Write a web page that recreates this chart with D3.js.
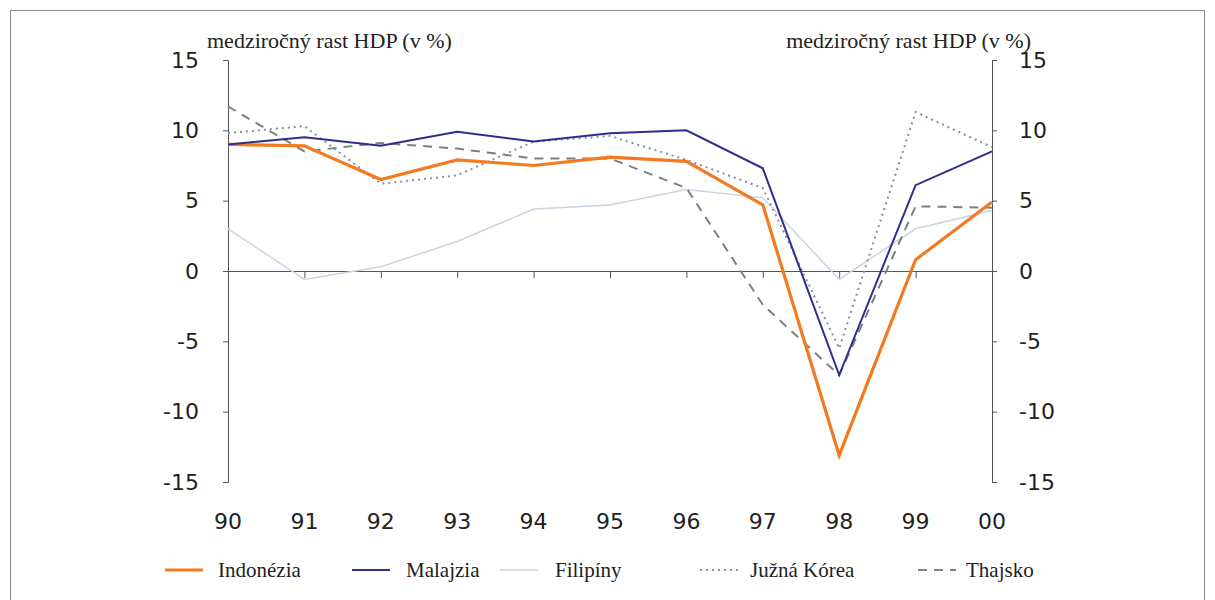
<!DOCTYPE html>
<html><head><meta charset="utf-8">
<script src="https://cdn.jsdelivr.net/npm/d3@7"></script>
<style>body{margin:0;background:#fff}svg{display:block}</style>
</head><body><svg id="c" width="1215" height="600"></svg>
<script>
const years = ["90","91","92","93","94","95","96","97","98","99","00"];
const indonezia = [9.0, 8.9, 6.5, 7.9, 7.5, 8.1, 7.8, 4.7, -13.1, 0.8, 4.9];
const malajzia  = [9.0, 9.5, 8.9, 9.9, 9.2, 9.8, 10.0, 7.3, -7.4, 6.1, 8.5];
const filipiny  = [3.0, -0.6, 0.3, 2.1, 4.4, 4.7, 5.8, 5.2, -0.6, 3.0, 4.3];
const juznaKorea= [9.8, 10.3, 6.2, 6.8, 9.2, 9.6, 7.9, 5.9, -5.5, 11.3, 8.8];
const thajsko   = [11.7, 8.5, 9.1, 8.7, 8.0, 8.0, 5.9, -2.4, -7.4, 4.6, 4.5];
const yTicks = [15, 10, 5, 0, -5, -10, -15];
const yTitle = "medziročný rast HDP (v %)";
const seriesNames = ["Indonézia","Malajzia","Filipíny","Južná Kórea","Thajsko"];

const series = [
  {name: seriesNames[0], values: indonezia, color: "#f47a20", width: 3.2, dash: null},
  {name: seriesNames[1], values: malajzia, color: "#2e2e8e", width: 2, dash: null},
  {name: seriesNames[2], values: filipiny, color: "#c9d5e2", width: 1.5, dash: null},
  {name: seriesNames[3], values: juznaKorea, color: "#8c8ca6", width: 2, dash: "2,4"},
  {name: seriesNames[4], values: thajsko, color: "#7f7f7f", width: 2, dash: "9,7"}
];

const svg = d3.select("#c");
svg.append("rect").attr("x",10.5).attr("y",10.5).attr("width",1194).attr("height",590)
  .attr("fill","none").attr("stroke","#8a8a8a").attr("stroke-width",1);

const x = d3.scalePoint().domain(years).range([228, 992]);
const y = d3.scaleLinear().domain([-15, 15]).range([482, 60]);

const tickFont = "DejaVu Sans, Verdana, sans-serif";
const serif = "Liberation Serif, Times New Roman, serif";
const fmt = d => String(d);

// left axis
const gl = svg.append("g").attr("transform","translate(228,0)")
  .call(d3.axisLeft(y).tickValues(yTicks).tickSize(5).tickPadding(24).tickFormat(fmt));
// right axis
const gr = svg.append("g").attr("transform","translate(992,0)")
  .call(d3.axisRight(y).tickValues(yTicks).tickSize(5).tickPadding(22).tickFormat(fmt));
[gl, gr].forEach(g => {
  g.select(".domain").attr("stroke","#555").attr("stroke-width",1);
  g.selectAll(".tick line").attr("stroke","#555");
  g.selectAll("text").attr("font-family", tickFont).attr("font-size", 22).attr("fill","#222");
});
gl.selectAll(".domain").attr("d", "M-5,60.5H0.5V482.5H-5");
gr.selectAll(".domain").attr("d", "M5,60.5H0.5V482.5H5");

// x axis at zero
const gx = svg.append("g").attr("transform",`translate(0,${y(0)})`)
  .call(d3.axisBottom(x).tickSize(7).tickFormat(""));
gx.select(".domain").attr("stroke","#555").attr("d",`M228,0.5H992`);
gx.selectAll(".tick line").attr("stroke","#555");

// x labels at bottom
svg.append("g").selectAll("text").data(years).join("text")
  .attr("x", d => x(d)).attr("y", 529).attr("text-anchor","middle")
  .attr("font-family", tickFont).attr("font-size", 22).attr("fill","#222").text(d => d);

// titles
svg.append("text").attr("x",207).attr("y",48).attr("font-family",serif).attr("font-size",22)
  .attr("fill","#222").text(yTitle);
svg.append("text").attr("x",1031).attr("y",48).attr("text-anchor","end").attr("font-family",serif).attr("font-size",22)
  .attr("fill","#222").text(yTitle);

// lines (draw order: lighter ones first)
const line = d3.line().x((d,i) => x(years[i])).y(d => y(d));
const order = [2, 4, 3, 0, 1];
order.forEach(k => {
  const s = series[k];
  svg.append("path").datum(s.values).attr("d", line).attr("fill","none")
    .attr("stroke", s.color).attr("stroke-width", s.width)
    .attr("stroke-dasharray", s.dash).attr("stroke-linejoin","miter");
});

// legend
const legPos = [[165, 218],[352, 406],[500, 555],[700, 750],[918, 966]];
series.forEach((s, i) => {
  const [sx, tx] = legPos[i];
  svg.append("line").attr("x1", sx).attr("x2", sx + 38).attr("y1", 570).attr("y2", 570)
    .attr("stroke", s.color).attr("stroke-width", s.width).attr("stroke-dasharray", s.dash);
  svg.append("text").attr("x", tx).attr("y", 577).attr("font-family", serif).attr("font-size", 21)
    .attr("fill","#222").text(s.name);
});
</script></body></html>
